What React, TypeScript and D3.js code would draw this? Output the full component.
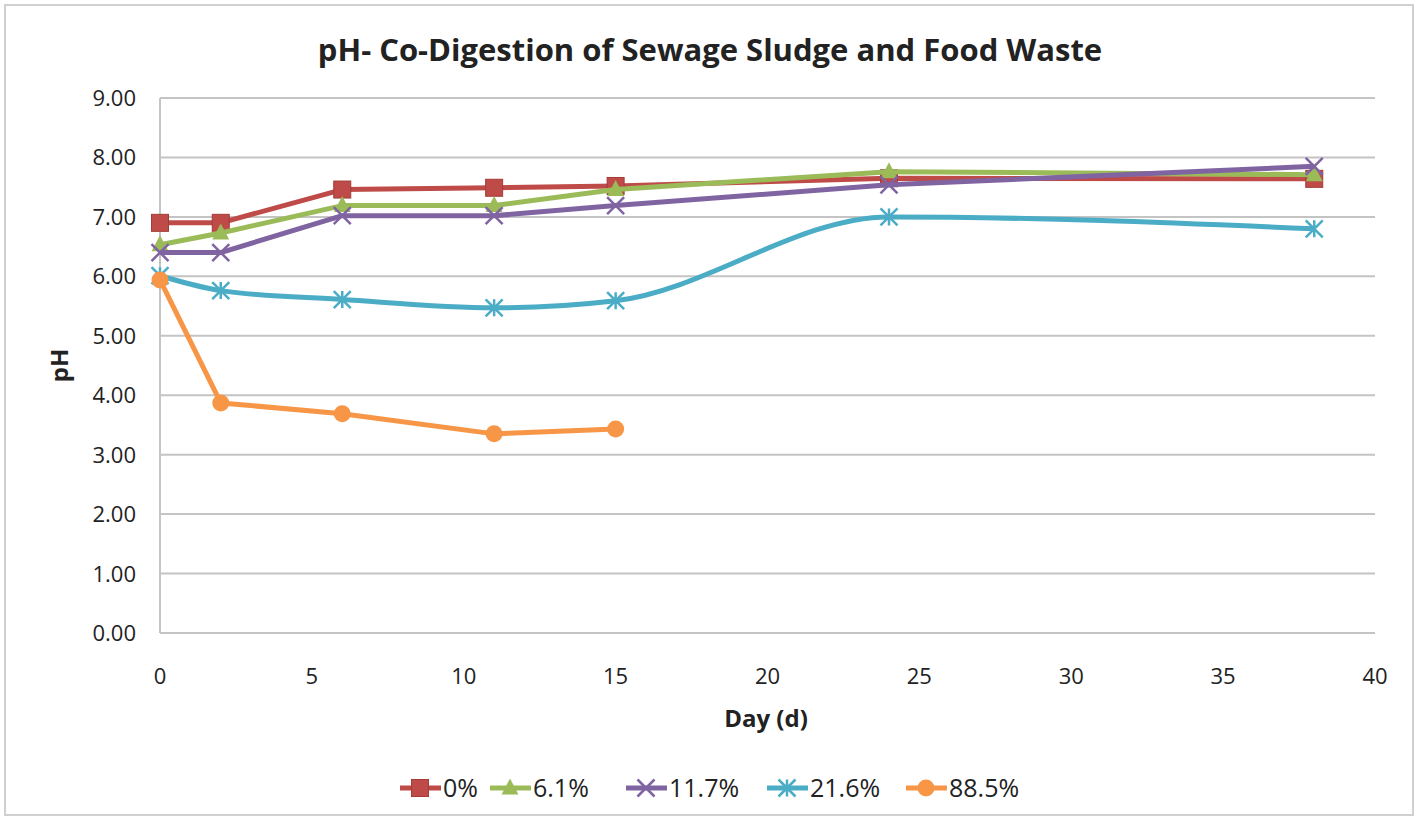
import React from "react";
import * as d3 from "d3";

const days = [0, 2, 6, 11, 15, 24, 38];
const seriesNames = ["0%", "6.1%", "11.7%", "21.6%", "88.5%"];
const s0 = [6.9, 6.9, 7.46, 7.49, 7.52, 7.65, 7.64];
const s61 = [6.53, 6.73, 7.19, 7.19, 7.46, 7.76, 7.71];
const s117 = [6.4, 6.4, 7.02, 7.02, 7.19, 7.54, 7.85];
const s216 = [6.01, 5.76, 5.61, 5.47, 5.59, 7.0, 6.8];
const s885 = [5.94, 3.87, 3.69, 3.35, 3.43];
const xTicks = [0, 5, 10, 15, 20, 25, 30, 35, 40];
const yTicks = [0, 1, 2, 3, 4, 5, 6, 7, 8, 9];

const colors = ["#BE4B48", "#9BBB59", "#8064A2", "#4BACC6", "#F79646"];
const markers = ["square", "triangle", "x", "star", "circle"];
const smooth = [false, false, false, true, false];
const allSeries = [s0, s61, s117, s216, s885];

const W = 1420;
const H = 823;
const left = 160;
const right = 1375;
const top = 98;
const bottom = 633;
const FONT = "'Open Sans', 'DejaVu Sans', sans-serif";

function Marker({ type, x, y, color }: { type: string; x: number; y: number; color: string }) {
  const s = 8.5;
  if (type === "square")
    return <rect x={x - s} y={y - s} width={2 * s} height={2 * s} fill={color} stroke="#A33C39" strokeWidth={1} />;
  if (type === "triangle")
    return <path d={`M${x},${y - s - 1}L${x + s},${y + s - 2}L${x - s},${y + s - 2}Z`} fill={color} />;
  if (type === "circle") return <circle cx={x} cy={y} r={s} fill={color} />;
  if (type === "x")
    return (
      <path d={`M${x - s},${y - s}L${x + s},${y + s}M${x - s},${y + s}L${x + s},${y - s}`} stroke={color} strokeWidth={2.5} />
    );
  return (
    <path
      d={`M${x - s},${y - s}L${x + s},${y + s}M${x - s},${y + s}L${x + s},${y - s}M${x},${y - s}L${x},${y + s}`}
      stroke={color}
      strokeWidth={2.5}
    />
  );
}

export default function App() {
  const x = d3.scaleLinear().domain([0, 40]).range([left, right]);
  const y = d3.scaleLinear().domain([0, 9]).range([bottom, top]);

  const legendX = [400, 490, 626, 767, 906];

  return (
    <svg width={W} height={H} style={{ position: "absolute", left: 0, top: 0, background: "#fff" }}>
      <rect x={5} y={5} width={1408} height={810} fill="#fff" stroke="#d0d0d0" strokeWidth={2} />
      <text x={710} y={61} textAnchor="middle" fontFamily={FONT} fontWeight="bold" fontSize={31} fill="#222">
        pH- Co-Digestion of Sewage Sludge and Food Waste
      </text>
      {yTicks.map((t) => (
        <g key={t}>
          <line x1={left} x2={right} y1={y(t)} y2={y(t)} stroke="#c4c4c4" strokeWidth={2} />
          <text x={136} y={y(t) + 8} textAnchor="end" fontFamily={FONT} fontSize={22} fill="#222">
            {t.toFixed(2)}
          </text>
        </g>
      ))}
      <line x1={left} x2={left} y1={top} y2={bottom} stroke="#c4c4c4" strokeWidth={2} />
      {xTicks.map((t) => (
        <text key={t} x={x(t)} y={684} textAnchor="middle" fontFamily={FONT} fontSize={22} fill="#222">
          {t}
        </text>
      ))}
      <text x={766} y={727} textAnchor="middle" fontFamily={FONT} fontWeight="bold" fontSize={24} fill="#222">
        Day (d)
      </text>
      <text
        transform={`translate(68,${(top + bottom) / 2}) rotate(-90)`}
        textAnchor="middle"
        fontFamily={FONT}
        fontWeight="bold"
        fontSize={24}
        fill="#222"
      >
        pH
      </text>
      {allSeries.map((vals, i) => {
        const pts: [number, number][] = vals.map((v, j) => [x(days[j]), y(v)]);
        const line = d3.line().curve(smooth[i] ? d3.curveMonotoneX : d3.curveLinear);
        return (
          <g key={i}>
            <path d={line(pts) || ""} fill="none" stroke={colors[i]} strokeWidth={5} strokeLinejoin="round" />
            {pts.map((p, j) => (
              <Marker key={j} type={markers[i]} x={p[0]} y={p[1]} color={colors[i]} />
            ))}
          </g>
        );
      })}
      {seriesNames.map((n, i) => {
        const lx = legendX[i];
        return (
          <g key={n}>
            <line x1={lx} x2={lx + 41} y1={788} y2={788} stroke={colors[i]} strokeWidth={5} />
            <Marker type={markers[i]} x={lx + 20} y={788} color={colors[i]} />
            <text x={lx + 43} y={797} fontFamily={FONT} fontSize={25} fill="#222">
              {n}
            </text>
          </g>
        );
      })}
    </svg>
  );
}
